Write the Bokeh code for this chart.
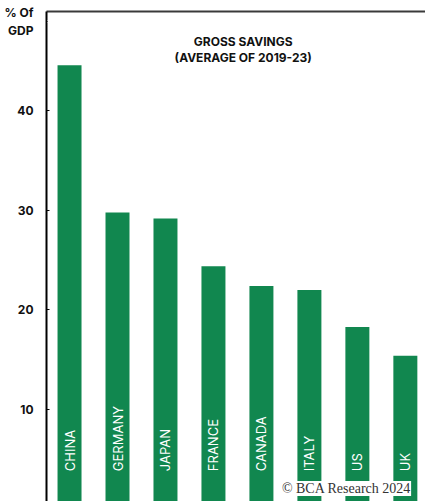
import math

from bokeh.core.properties import value
from bokeh.embed import file_html
from bokeh.models import BoxAnnotation, ColumnDataSource, FixedTicker, Label, LinearAxis, Range1d
from bokeh.plotting import figure
from bokeh.resources import INLINE

# Gross savings, % of GDP, average of 2019-23
countries = ["CHINA", "GERMANY", "JAPAN", "FRANCE", "CANADA", "ITALY", "US", "UK"]
savings = [44.6, 29.8, 29.2, 24.4, 22.4, 22.0, 18.3, 15.4]
y_ticks = [10, 20, 30, 40]
unit_caption = "% Of\nGDP"

BAR_GREEN = "#11874f"
LABEL_FONT = "Inter"
CAPTION_AT = 49  # axis position that carries the unit caption

positions = list(range(len(countries)))
src = ColumnDataSource(dict(x=positions, top=savings, name=countries))

p = figure(
    width=425, height=501,
    output_backend="svg", toolbar_location=None,
    x_range=Range1d(-0.48, 7.42), y_range=Range1d(0.75, 50),
    x_axis_location=None,
    min_border_left=46, min_border_top=11, min_border_right=0, min_border_bottom=0,
)
p.outline_line_color = None
p.xgrid.visible = False
p.ygrid.visible = False
p.background_fill_color = "white"
p.border_fill_color = "white"

# left value axis, small ticks pointing into the plot; the top slot holds the unit caption
ax = p.yaxis[0]
ax.ticker = FixedTicker(ticks=y_ticks + [CAPTION_AT])
ax.major_label_overrides = {CAPTION_AT: unit_caption}
ax.axis_line_color = "black"
ax.axis_line_width = 2
ax.major_tick_in = 3
ax.major_tick_out = 0
ax.major_tick_line_color = "black"
ax.minor_tick_line_color = None
ax.major_label_standoff = 13
ax.major_label_text_font = LABEL_FONT
ax.major_label_text_font_style = "bold"
ax.major_label_text_font_size = "12px"
ax.major_label_text_color = "#111111"

# rule along the top of the frame
top_rule = LinearAxis(
    ticker=FixedTicker(ticks=[]),
    axis_line_color="#3a3a3a", axis_line_width=2,
    major_tick_line_color=None, minor_tick_line_color=None,
)
p.add_layout(top_rule, "above")

p.vbar(x="x", top="top", bottom=0, width=0.5, source=src,
       fill_color=BAR_GREEN, line_color=None)

# no tick mark beside the caption
p.add_layout(BoxAnnotation(left=-0.455, right=-0.40, bottom=CAPTION_AT - 0.15,
                           top=CAPTION_AT + 0.15, fill_color="white", fill_alpha=1.0,
                           line_color=None, level="overlay"))

p.text(x="x", y=3.8, text="name", source=src, angle=math.pi / 2,
       text_align="left", text_baseline="middle", text_color="white",
       text_font=value(LABEL_FONT), text_font_size="13px")

# chart title
for txt, yy in [("GROSS SAVINGS", 47.0), ("(AVERAGE OF 2019-23)", 45.4)]:
    p.add_layout(Label(x=3.62, y=yy, text=txt, text_align="center", text_baseline="middle",
                       text_font=LABEL_FONT, text_font_style="bold",
                       text_font_size="12px", text_color="#111111"))

# source credit
p.add_layout(Label(x=7.12, y=2.05, text="© BCA Research 2024", text_align="right",
                   text_baseline="middle", text_font="Liberation Serif",
                   text_font_size="14px", text_color="#333333",
                   background_fill_color="white", background_fill_alpha=1.0))

open("out.html", "w").write(file_html(p, INLINE))
